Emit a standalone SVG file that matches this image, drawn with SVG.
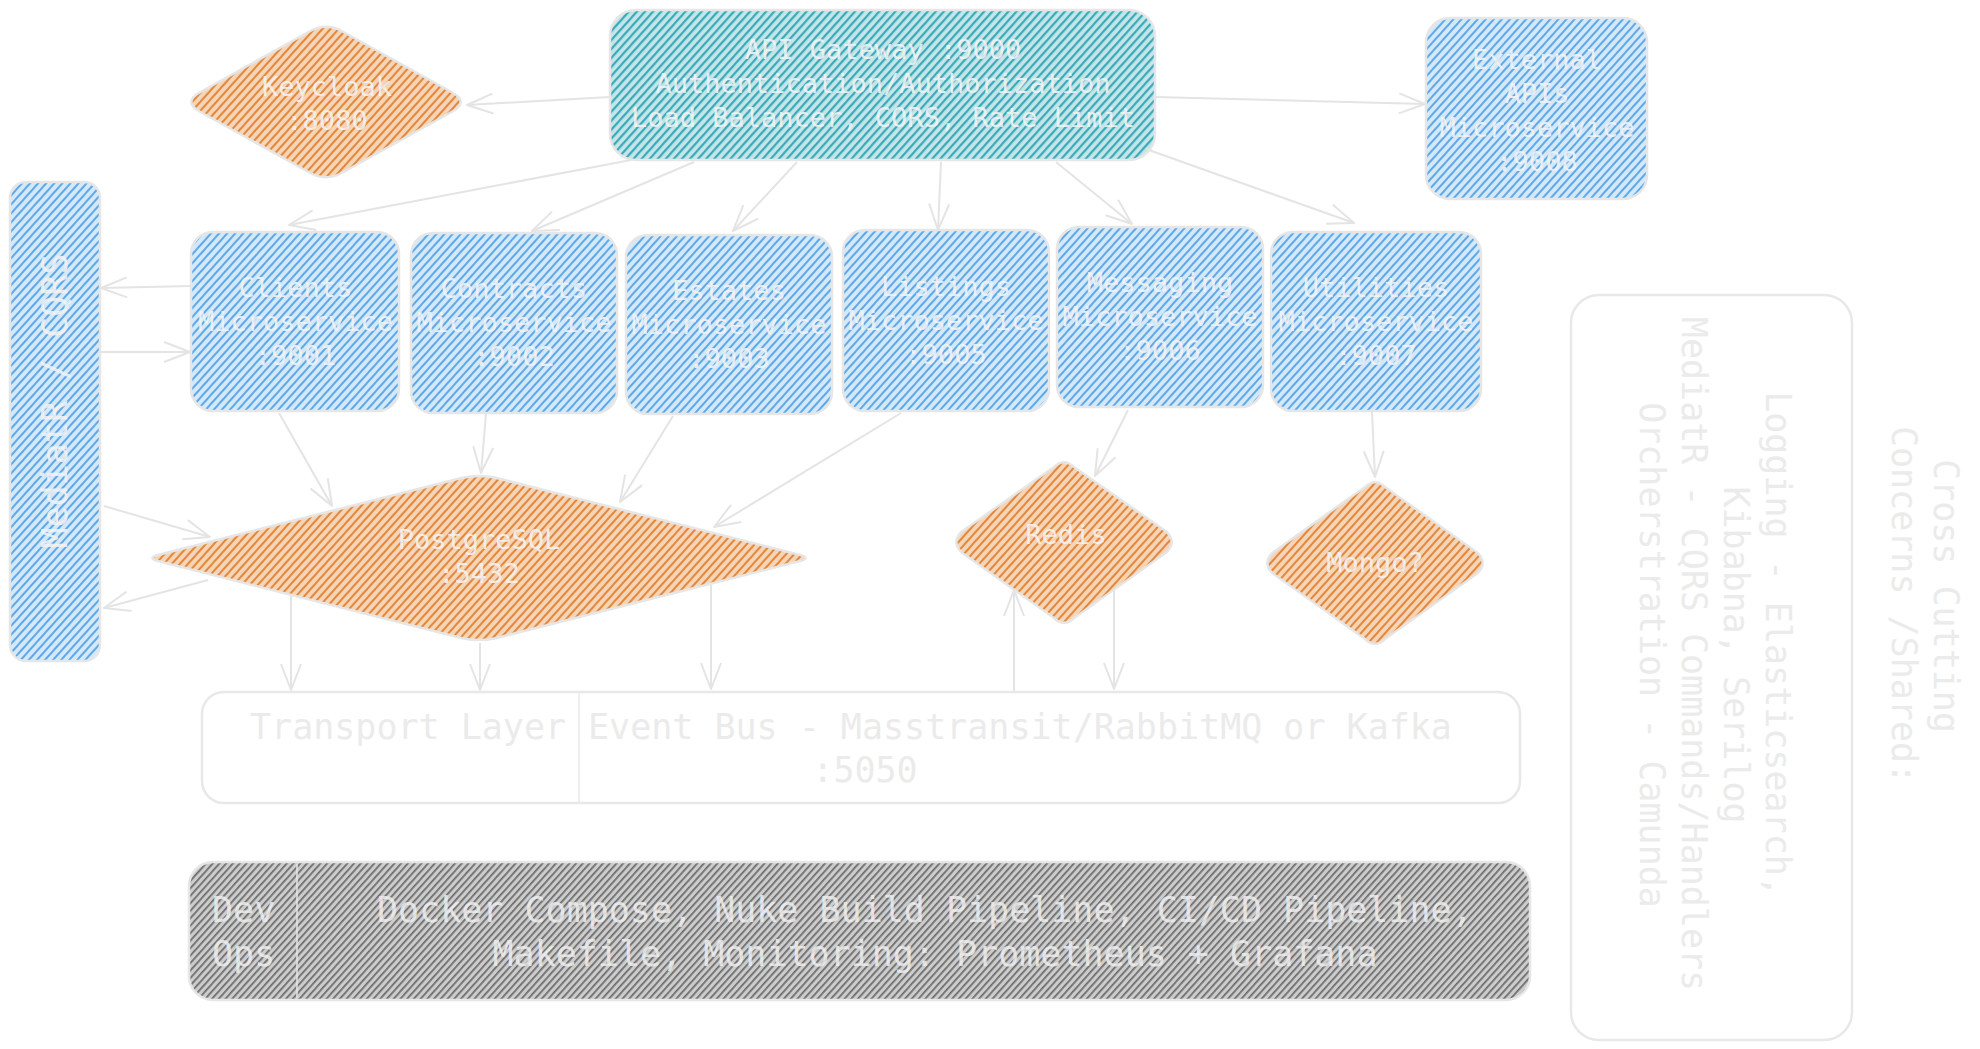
<svg xmlns="http://www.w3.org/2000/svg" width="1980" height="1049" viewBox="0 0 1980 1049">
<style>
.lbl{font-family:"DejaVu Sans Mono","Liberation Mono",monospace;font-size:27px;fill:#f3f3f3;fill-opacity:0.88;text-anchor:middle}
.big{font-family:"DejaVu Sans Mono","Liberation Mono",monospace;font-size:35px;fill:#ebebeb}
.mid{text-anchor:middle}
.bd{stroke:#e6e6e6;stroke-width:2.5}
.edge{fill:none;stroke:#e4e4e4;stroke-width:2;marker-end:url(#arr)}
</style>
<defs>
<pattern id="hTeal" width="6" height="6" patternUnits="userSpaceOnUse" patternTransform="rotate(42)"><rect width="6" height="6" fill="#c4e6ea"/><rect width="2.2" height="6" fill="#3aa9b8"/></pattern>
<pattern id="hBlue" width="6" height="6" patternUnits="userSpaceOnUse" patternTransform="rotate(42)"><rect width="6" height="6" fill="#d3e8f9"/><rect width="2" height="6" fill="#5ea8e8"/></pattern>
<pattern id="hOrange" width="6" height="6" patternUnits="userSpaceOnUse" patternTransform="rotate(42)"><rect width="6" height="6" fill="#f6d4b6"/><rect width="2" height="6" fill="#e2873b"/></pattern>
<pattern id="hGray" width="5" height="5" patternUnits="userSpaceOnUse" patternTransform="rotate(42)"><rect width="5" height="5" fill="#cccccc"/><rect width="1.7" height="5" fill="#6a6a6a"/></pattern>
<marker id="arr" viewBox="0 0 28 22" refX="27" refY="11" markerWidth="28" markerHeight="22" markerUnits="userSpaceOnUse" orient="auto"><path d="M1,1 L27,11 L1,21" fill="none" stroke="#e4e4e4" stroke-width="2" stroke-linejoin="round"/></marker>
</defs>
<rect width="1980" height="1049" fill="#ffffff"/>

<g id="api-gateway">
<rect class="bd" x="610" y="10" width="545" height="150" rx="26" fill="url(#hTeal)"/>
<text class="lbl"><tspan x="883" y="59">API Gateway :9000</tspan><tspan x="883" y="93">Authentication/Authorization</tspan><tspan x="883" y="127">Load Balancer, CORS, Rate Limit</tspan></text>
</g>

<g id="keycloak">
<path class="bd" fill="url(#hOrange)" d="M309.4,31.5 Q326,22 342.6,31.5 L452.4,92.5 Q469,102 452.4,111.5 L342.6,172.5 Q326,182 309.4,172.5 L199.6,111.5 Q183,102 199.6,92.5 Z"/>
<text class="lbl"><tspan x="327" y="96">Keycloak</tspan><tspan x="327" y="130">:8080</tspan></text>
</g>

<g id="external-apis">
<rect class="bd" x="1426" y="18" width="221" height="181" rx="24" fill="url(#hBlue)"/>
<text class="lbl"><tspan x="1537" y="69">External</tspan><tspan x="1537" y="103">APIs</tspan><tspan x="1537" y="137">Microservice</tspan><tspan x="1537" y="171">:9008</tspan></text>
</g>

<g id="mediatr-cqrs">
<rect class="bd" x="10" y="182" width="90" height="479" rx="16" fill="url(#hBlue)"/>
<text class="big mid" style="fill:#f2f2f2;fill-opacity:0.88" transform="translate(55,401) rotate(-90)" x="0" y="12">MediatR / CQRS</text>
</g>

<g id="clients">
<rect class="bd" x="191" y="232" width="208" height="179" rx="22" fill="url(#hBlue)"/>
<text class="lbl"><tspan x="295.5" y="297">Clients</tspan><tspan x="295.5" y="331">Microservice</tspan><tspan x="295.5" y="365">:9001</tspan></text>
</g>

<g id="contracts">
<rect class="bd" x="411" y="233" width="206" height="180" rx="22" fill="url(#hBlue)"/>
<text class="lbl"><tspan x="514" y="298">Contracts</tspan><tspan x="514" y="332">Microservice</tspan><tspan x="514" y="366">:9002</tspan></text>
</g>

<g id="estates">
<rect class="bd" x="626" y="235" width="206" height="179" rx="22" fill="url(#hBlue)"/>
<text class="lbl"><tspan x="729" y="300">Estates</tspan><tspan x="729" y="334">Microservice</tspan><tspan x="729" y="368">:9003</tspan></text>
</g>

<g id="listings">
<rect class="bd" x="843" y="230" width="206" height="181" rx="22" fill="url(#hBlue)"/>
<text class="lbl"><tspan x="946" y="296">Listings</tspan><tspan x="946" y="330">Microservice</tspan><tspan x="946" y="364">:9005</tspan></text>
</g>

<g id="messaging">
<rect class="bd" x="1057" y="227" width="206" height="180" rx="22" fill="url(#hBlue)"/>
<text class="lbl"><tspan x="1160" y="292">Messaging</tspan><tspan x="1160" y="326">Microservice</tspan><tspan x="1160" y="360">:9006</tspan></text>
</g>

<g id="utilities">
<rect class="bd" x="1271" y="232" width="210" height="179" rx="22" fill="url(#hBlue)"/>
<text class="lbl"><tspan x="1376" y="297">Utilities</tspan><tspan x="1376" y="331">Microservice</tspan><tspan x="1376" y="365">:9007</tspan></text>
</g>

<g id="postgresql">
<path class="bd" fill="url(#hOrange)" d="M462.2,477.8 Q479,474 495.8,477.8 L797.2,554.2 Q814,558 797.2,561.8 L495.8,638.2 Q479,642 462.2,638.2 L160.8,561.8 Q144,558 160.8,554.2 Z"/>
<text class="lbl"><tspan x="479" y="549">PostgreSQL</tspan><tspan x="479" y="583">:5432</tspan></text>
</g>

<g id="redis">
<path class="bd" fill="url(#hOrange)" d="M1053.4,467.4 Q1064,457 1074.6,467.4 L1166.4,531.6 Q1177,542 1166.4,552.4 L1074.6,617.6 Q1064,628 1053.4,617.6 L961.6,552.4 Q951,542 961.6,531.6 Z"/>
<text class="lbl" x="1066" y="544">Redis</text>
</g>

<g id="mongo">
<path class="bd" fill="url(#hOrange)" d="M1364.4,487.4 Q1375,477 1385.6,487.4 L1477.4,552.6 Q1488,563 1477.4,573.4 L1385.6,638.6 Q1375,649 1364.4,638.6 L1272.6,573.4 Q1262,563 1272.6,552.6 Z"/>
<text class="lbl" x="1375" y="572">Mongo?</text>
</g>

<g id="transport-layer">
<rect x="202" y="692" width="1318" height="111" rx="22" fill="none" stroke="#e8e8e8" stroke-width="2.5"/>
<line x1="579" y1="692" x2="579" y2="803" stroke="#e8e8e8" stroke-width="1.5"/>
<text class="big" x="250" y="739">Transport Layer</text>
<text class="big" x="588" y="739">Event Bus - Masstransit/RabbitMQ or Kafka</text>
<text class="big mid" x="865" y="782">:5050</text>
</g>

<g id="devops">
<rect class="bd" x="189" y="862" width="1341" height="138" rx="24" fill="url(#hGray)"/>
<line x1="297" y1="864" x2="297" y2="998" stroke="#e6e6e6" stroke-width="1.5"/>
<text class="big" style="fill:#eeeeee;fill-opacity:0.85"><tspan x="212" y="922">Dev</tspan><tspan x="212" y="966">Ops</tspan></text>
<text class="big" style="fill:#eeeeee;fill-opacity:0.85" x="377" y="922">Docker Compose, Nuke Build Pipeline, CI/CD Pipeline,</text>
<text class="big mid" style="fill:#eeeeee;fill-opacity:0.85" x="935" y="966">Makefile, Monitoring: Prometheus + Grafana</text>
</g>

<g id="cross-cutting">
<rect x="1571" y="295" width="281" height="745" rx="28" fill="none" stroke="#e8e8e8" stroke-width="2.5"/>
<text class="big mid" transform="translate(1946,596) rotate(90)" x="0" y="12">Cross Cutting</text>
<text class="big mid" transform="translate(1904,605) rotate(90)" x="0" y="12">Concerns /Shared:</text>
<text class="big mid" transform="translate(1778,644) rotate(90)" x="0" y="12">Logging - Elasticsearch,</text>
<text class="big mid" transform="translate(1736,655) rotate(90)" x="0" y="12">Kibabna, Serilog</text>
<text class="big mid" transform="translate(1694,654) rotate(90)" x="0" y="12">MediatR - CQRS Commands/Handlers</text>
<text class="big mid" transform="translate(1652,655) rotate(90)" x="0" y="12">Orcherstration - Camunda</text>
</g>

<g id="connectors">
<path class="edge" d="M610,97 L467,105"/>
<path class="edge" d="M1155,97 L1425,104"/>
<path class="edge" d="M631,160 L289,225"/>
<path class="edge" d="M694,162 L532,231"/>
<path class="edge" d="M797,162 L733,231"/>
<path class="edge" d="M941,162 L938,230"/>
<path class="edge" d="M1056,162 L1132,224"/>
<path class="edge" d="M1146,149 L1354,223"/>
<path class="edge" d="M191,286 L101,288"/>
<path class="edge" d="M100,352 L190,352"/>
<path class="edge" d="M104,506 L210,537"/>
<path class="edge" d="M208,580 L104,608"/>
<path class="edge" d="M279,413 L332,506"/>
<path class="edge" d="M486,414 L481,473"/>
<path class="edge" d="M673,416 L620,502"/>
<path class="edge" d="M901,413 L714,527"/>
<path class="edge" d="M1128,410 L1095,476"/>
<path class="edge" d="M1372,412 L1375,477"/>
<path class="edge" d="M291,595 L291,690"/>
<path class="edge" d="M480,643 L480,690"/>
<path class="edge" d="M711,585 L711,689"/>
<path class="edge" d="M1014,691 L1014,590"/>
<path class="edge" d="M1114,589 L1114,689"/>
</g>
</svg>
